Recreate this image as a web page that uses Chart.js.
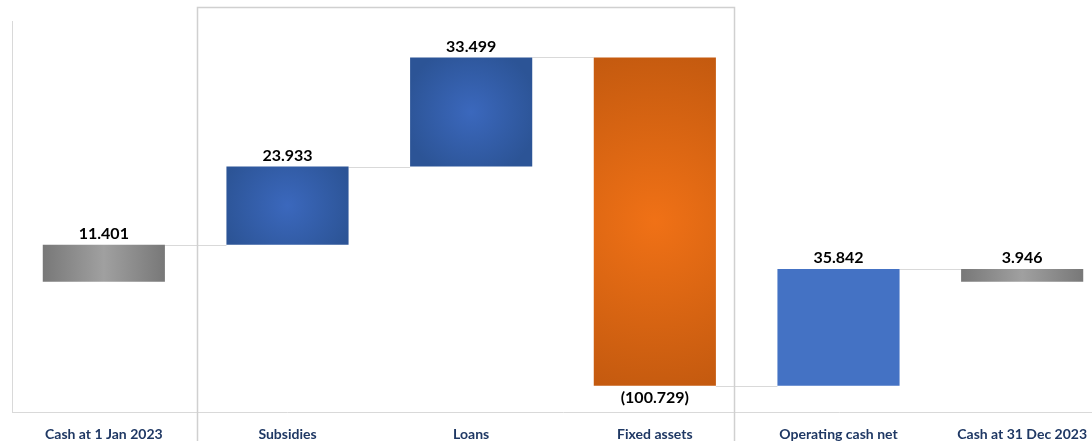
<!DOCTYPE html>
<html>
<head>
<meta charset="utf-8">
<script src="https://cdn.jsdelivr.net/npm/chart.js@4.4.1/dist/chart.umd.min.js"></script>
<style>
  html, body { margin: 0; padding: 0; background: #fff; overflow: hidden; }
  #wrap { position: relative; width: 1116px; height: 457px; }
</style>
</head>
<body>
<div id="wrap"><canvas id="myChart"></canvas></div>
<script>
const categories = ["Cash at 1 Jan 2023", "Subsidies", "Loans", "Fixed assets", "Operating cash net", "Cash at 31 Dec 2023"];
const values = [11.401, 23.933, 33.499, -100.729, 35.842, 3.946];
const isTotal = [true, false, false, false, false, true];
const valueLabels = ["11.401", "23.933", "33.499", "(100.729)", "35.842", "3.946"];
const barStyle = ["gray", "blue", "blue", "orange", "flat", "gray"];

// floating ranges for the waterfall
let running = 0;
const ranges = values.map((v, i) => {
  if (isTotal[i]) {
    running = v;
    return [0, v];
  }
  const start = running;
  running += v;
  return [start, running];
});

function barFill(context) {
  const chart = context.chart;
  const { ctx, chartArea, scales } = chart;
  const kind = barStyle[context.dataIndex];
  if (kind === "flat") return "#4472C4";
  if (!chartArea) return kind === "gray" ? "#8c8c8c" : kind === "blue" ? "#3560AA" : "#E0650F";
  const r = ranges[context.dataIndex];
  const cx = scales.x.getPixelForValue(context.dataIndex);
  const half = scales.x.width / categories.length * 0.665 / 2;
  const y1 = scales.y.getPixelForValue(Math.max(r[0], r[1]));
  const y2 = scales.y.getPixelForValue(Math.min(r[0], r[1]));
  const cy = (y1 + y2) / 2;
  if (kind === "gray") {
    const g = ctx.createLinearGradient(cx - half, 0, cx + half, 0);
    g.addColorStop(0, "#787878");
    g.addColorStop(0.5, "#a0a0a0");
    g.addColorStop(1, "#787878");
    return g;
  }
  const rad = Math.max(half, (y2 - y1) / 2) * 1.1;
  const g = ctx.createRadialGradient(cx, cy, 0, cx, cy, rad);
  if (kind === "blue") {
    g.addColorStop(0, "#3b68bd");
    g.addColorStop(1, "#2c5496");
  } else {
    g.addColorStop(0, "#f07116");
    g.addColorStop(1, "#c2590f");
  }
  return g;
}

const extrasPlugin = {
  id: "extras",
  beforeDatasetsDraw(chart) {
    const { ctx, scales } = chart;
    const meta = chart.getDatasetMeta(0);
    ctx.save();
    // connectors
    ctx.strokeStyle = "#d9d9d9";
    ctx.lineWidth = 1;
    for (let i = 0; i < ranges.length - 1; i++) {
      const level = ranges[i][1];
      const y = Math.round(scales.y.getPixelForValue(level)) + 0.5;
      const a = meta.data[i], b = meta.data[i + 1];
      ctx.beginPath();
      ctx.moveTo(a.x + a.width / 2, y);
      ctx.lineTo(b.x - b.width / 2, y);
      ctx.stroke();
    }
    // highlight box
    ctx.strokeStyle = "#d0d0d0";
    ctx.lineWidth = 1.5;
    ctx.strokeRect(197.5, 7.5, 537, 470);
    ctx.restore();
  },
  afterDatasetsDraw(chart) {
    const { ctx, scales } = chart;
    const meta = chart.getDatasetMeta(0);
    ctx.save();
    ctx.fillStyle = "#000";
    ctx.font = "bold 16px Lato";
    ctx.textAlign = "center";
    meta.data.forEach((bar, i) => {
      const r = ranges[i];
      if (values[i] < 0) {
        ctx.textBaseline = "top";
        ctx.fillText(valueLabels[i], bar.x, scales.y.getPixelForValue(Math.min(r[0], r[1])) + 4);
      } else {
        ctx.textBaseline = "bottom";
        ctx.fillText(valueLabels[i], bar.x, scales.y.getPixelForValue(Math.max(r[0], r[1])) - 3);
      }
    });
    ctx.restore();
  }
};

new Chart(document.getElementById("myChart"), {
  type: "bar",
  data: {
    labels: categories,
    datasets: [{
      data: ranges,
      backgroundColor: barFill,
      borderWidth: 0,
      categoryPercentage: 1,
      barPercentage: 0.665
    }]
  },
  options: {
    responsive: true,
    maintainAspectRatio: false,
    animation: false,
    layout: { padding: { left: 12, top: 21, right: 2, bottom: 0 } },
    plugins: { legend: { display: false }, tooltip: { enabled: false } },
    scales: {
      x: {
        grid: { display: false, drawTicks: false },
        border: { display: true, color: "#d9d9d9", width: 1 },
        ticks: {
          padding: 14,
          color: "#1F3864",
          maxRotation: 0,
          autoSkip: false,
          font: { family: "Lato", size: 14, weight: "bold" }
        }
      },
      y: {
        min: -40,
        max: 80,
        grid: { display: false, drawTicks: false },
        border: { display: true, color: "#d9d9d9", width: 1 },
        ticks: { display: false }
      }
    }
  },
  plugins: [extrasPlugin]
});
</script>
</body>
</html>
